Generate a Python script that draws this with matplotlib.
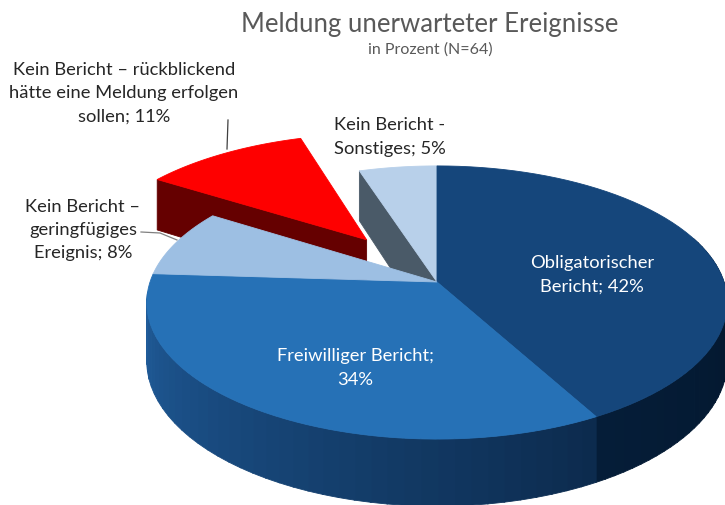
import numpy as np
import matplotlib
matplotlib.use('Agg')
import matplotlib.pyplot as plt
from matplotlib.colors import to_rgb

#values in percent, clockwise from 12 o'clock
categories = ['Obligatorischer\nBericht', 'Freiwilliger Bericht;\n', 'Kein Bericht –\ngeringfügiges\nEreignis',
              'Kein Bericht – rückblickend\nhätte eine Meldung erfolgen\nsollen', 'Kein Bericht -\nSonstiges']
values = [42, 34, 8, 11, 5]

#perspective of the pie, pixels
cx, cy = 437, 283
a, b = 287, 133.5
k = 0.15
depth = 57
explode_red = 0.42

plt.rcParams['font.family'] = ['Lato', 'DejaVu Sans']


def proj(u, v, z=0.0):
    w = 1 + k*v
    return cx + a*u/w, cy - b*v/w + z*depth/w


def arc(t0, t1, off=(0, 0), z=0.0, n=60):
    th = np.radians(np.linspace(t0, t1, n))
    return proj(np.sin(th)+off[0], np.cos(th)+off[1], z)


def mix(c0, c1, f):
    c0, c1 = np.array(to_rgb(c0)), np.array(to_rgb(c1))
    return tuple(c0 + (c1-c0)*f)


def poly(ax, x, y, color, zo):
    ax.fill(x, y, color=color, lw=0.6, zorder=zo)


def top_flat(ax, t0, t1, color, zo, off=(0, 0)):
    x, y = arc(t0, t1, off)
    ax0, ay0 = proj(off[0], off[1])
    poly(ax, np.r_[ax0, x], np.r_[ay0, y], color, zo)


def wall(ax, t0, t1, c0, c1, zo, n=40):
    e = np.linspace(t0, t1, n+1)
    for i in range(n):
        x0, y0 = arc(e[i], e[i+1]+0.2, n=6)
        x1, y1 = arc(e[i], e[i+1]+0.2, z=1, n=6)
        poly(ax, np.r_[x0, x1[::-1]], np.r_[y0, y1[::-1]], mix(c0, c1, i/(n-1)), zo)


def side(ax, t, color, zo, off=(0, 0)):
    u, v = np.sin(np.radians(t))+off[0], np.cos(np.radians(t))+off[1]
    x0, y0 = proj(off[0], off[1])
    x1, y1 = proj(u, v)
    x2, y2 = proj(u, v, 1)
    x3, y3 = proj(off[0], off[1], 1)
    poly(ax, [x0, x1, x2, x3], [y0, y1, y2, y3], color, zo)


edges = np.r_[0, np.cumsum(values)]*3.6

fig = plt.figure(figsize=(7.25, 5.06), dpi=100)
ax = fig.add_axes([0, 0, 1, 1])
ax.set_xlim(0, 725)
ax.set_ylim(506, 0)
ax.axis('off')

mid = np.radians((edges[3]+edges[4])/2)
off = (explode_red*np.sin(mid), explode_red*np.cos(mid))

#back pieces first
side(ax, edges[4], '#4a5a68', 1)
top_flat(ax, edges[4], edges[5], '#b8d0ea', 2)
side(ax, edges[3], '#650000', 3, off)
top_flat(ax, edges[3], edges[4], '#fe0000', 4, off)

#outer wall of the pie
wall(ax, 70, edges[1], '#03152a', '#051d38', 5)
wall(ax, edges[1], edges[2]-8, '#0c2b4e', '#205c9a', 5)
top_flat(ax, edges[0], edges[1], '#15467b', 6)
top_flat(ax, edges[1], edges[2], '#2671b6', 6)
top_flat(ax, edges[2], edges[3], '#9dbfe3', 6)

#labels
ax.text(430, 24, 'Meldung unerwarteter Ereignisse', ha='center', va='center', fontsize=18.5, color='#595959')
ax.text(430, 50, 'in Prozent (N=64)', ha='center', va='center', fontsize=11.5, color='#595959')

dark = '#262626'
ax.text(124, 93, f'{categories[3]}; {values[3]}%', ha='center', va='center', fontsize=13.2, color=dark, linespacing=1.55)
ax.text(390, 137, f'{categories[4]}; {values[4]}%', ha='center', va='center', fontsize=13.2, color=dark, linespacing=1.55)
ax.text(83, 230, f'{categories[2]}; {values[2]}%', ha='center', va='center', fontsize=13.2, color=dark, linespacing=1.55)
ax.text(592, 275, f'{categories[0]}; {values[0]}%', ha='center', va='center', fontsize=13.2, color='white', linespacing=1.55, zorder=8)
ax.text(355, 368, f'Freiwilliger Bericht;\n{values[1]}%', ha='center', va='center', fontsize=13.2, color='white', linespacing=1.55, zorder=8)

#leader lines
ax.plot([228, 227], [121, 150], color='#404040', lw=0.9, zorder=7)
ax.plot([141, 160, 177], [233, 234, 241], color='#808080', lw=0.9, zorder=5)

fig.savefig('out.png', dpi=100)
